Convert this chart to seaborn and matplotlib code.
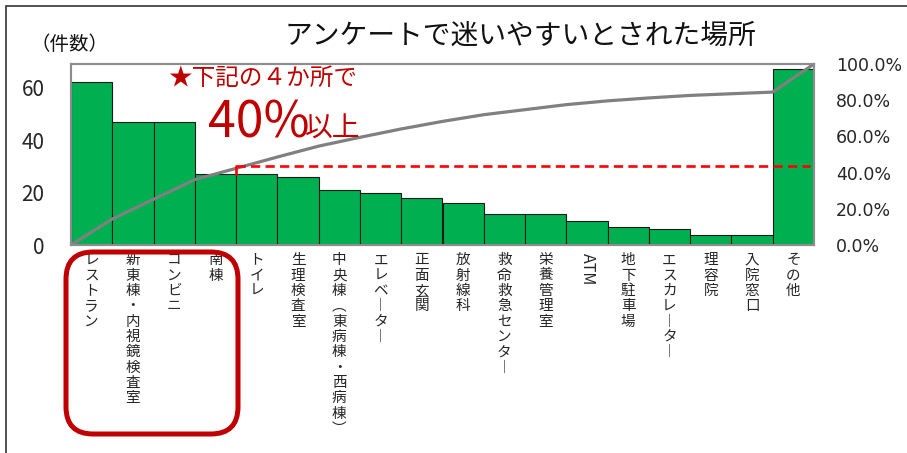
import numpy as np
import pandas as pd
import matplotlib
matplotlib.use("Agg")
import matplotlib.pyplot as plt
import matplotlib.patches as mpatches
import seaborn as sns

# ---- data ----
categories = ["レストラン", "新東棟・内視鏡検査室", "コンビニ", "南棟", "トイレ", "生理検査室",
              "中央棟（東病棟・西病棟）", "エレベーター", "正面玄関", "放射線科", "救命救急センター",
              "栄養管理室", "ATM", "地下駐車場", "エスカレーター", "理容院", "入院窓口", "その他"]
counts = [62, 47, 47, 27, 27, 26, 21, 20, 18, 16, 12, 12, 9, 7, 6, 4, 4, 67]
left_ticks = [0, 20, 40, 60]
right_ticks = [0, 20, 40, 60, 80, 100]
title = "アンケートで迷いやすいとされた場所"
highlight_n = 4

sns.set_theme(style="white")
plt.rcParams['font.family'] = ['Noto Sans CJK JP', 'DejaVu Sans']

df = pd.DataFrame({"place": categories, "count": counts})
cum = np.concatenate([[0], np.cumsum(counts)]) / np.sum(counts) * 100
edges = np.arange(len(counts) + 1) - 0.5
df_line = pd.DataFrame({"x": edges, "cum": cum})

W, H = 907, 453
fig = plt.figure(figsize=(W / 100, H / 100), dpi=100)
ax = fig.add_axes([71 / W, 1 - 245 / H, (814 - 71) / W, (245 - 64) / H])

sns.barplot(data=df, x="place", y="count", ax=ax, color="#00B050", saturation=1,
            width=1.0, edgecolor="#1a1a1a", linewidth=0.8)
ax.set_xlim(-0.5, len(counts) - 0.5)
ax.set_ylim(0, 69)
ax.set_yticks(left_ticks)
ax.set_yticklabels([str(v) for v in left_ticks], fontsize=15)
ax.tick_params(axis='y', length=0, pad=19)
ax.set_xlabel("")
ax.set_ylabel("")

def vert(s):
    rep = {"ー": "︱", "（": "︵", "）": "︶"}
    return "\n".join(rep.get(c, c) for c in s)

ax.set_xticks(range(len(categories)))
labels = [c if c == "ATM" else vert(c) for c in categories]
ax.set_xticklabels(labels, fontsize=10.5)
ax.tick_params(axis='x', length=0, pad=6)
for lab, c in zip(ax.get_xticklabels(), categories):
    lab.set_linespacing(1.12)
    lab.set_verticalalignment('top')
    if c == "ATM":
        lab.set_rotation(270)
        lab.set_fontsize(11.5)

for sp in ax.spines.values():
    sp.set_color("#8c8c8c")
    sp.set_linewidth(1.5)

ax2 = ax.twinx()
sns.lineplot(data=df_line, x="x", y="cum", ax=ax2, color="#808080", linewidth=2.3, sort=False)
ax2.set_xlim(-0.5, len(counts) - 0.5)
ax2.set_ylim(0, 100)
ax2.set_yticks(right_ticks)
ax2.set_yticklabels([f"{v:.1f}%" for v in right_ticks], fontsize=12.5, family="DejaVu Sans")
ax2.tick_params(axis='y', length=0, pad=16)
ax2.set_ylabel("")
for sp in ax2.spines.values():
    sp.set_color("#8c8c8c")
    sp.set_linewidth(1.5)

# red dashed 40% line
c4 = cum[highlight_n]
ax2.plot([edges[highlight_n], len(counts) - 0.6], [c4 + 1.5, c4 + 1.5], color="#FF0000",
         linewidth=1.9, linestyle=(0, (3.5, 2)))
ax2.plot([edges[highlight_n], edges[highlight_n]], [c4 + 1.5, c4 - 3], color="#FF0000", linewidth=1.9)

# texts
fig.text(520 / W, 1 - 36 / H, title, ha="center", va="center", fontsize=20, color="#111111")
fig.text(31 / W, 1 - 44 / H, "（件数）", ha="left", va="center", fontsize=14, color="#111111")
fig.text(168 / W, 1 - 78 / H, "★下記の４か所で", ha="left", va="center", fontsize=17, color="#C00000")
fig.text(208 / W, 1 - 137 / H, "40%", ha="left", va="baseline", fontsize=36, color="#C00000")
fig.text(305 / W, 1 - 137 / H, "以上", ha="left", va="baseline", fontsize=20, color="#C00000")

# red rounded box around first four labels
box = mpatches.FancyBboxPatch((66 / W, 1 - 434 / H), (238 - 66) / W, (434 - 252) / H,
                              boxstyle=mpatches.BoxStyle("Round", pad=0, rounding_size=0.03),
                              transform=fig.transFigure, fill=False, edgecolor="#C00000",
                              linewidth=3.6, mutation_aspect=W / H)
fig.patches.append(box)

# outer frame (left and top visible)
frame = mpatches.Rectangle((6 / W, -0.5), 2.0, 1.5 - 6 / H, transform=fig.transFigure,
                           fill=False, edgecolor="#333333", linewidth=1.2)
fig.patches.append(frame)

fig.savefig("out.png", dpi=100, facecolor="white")
